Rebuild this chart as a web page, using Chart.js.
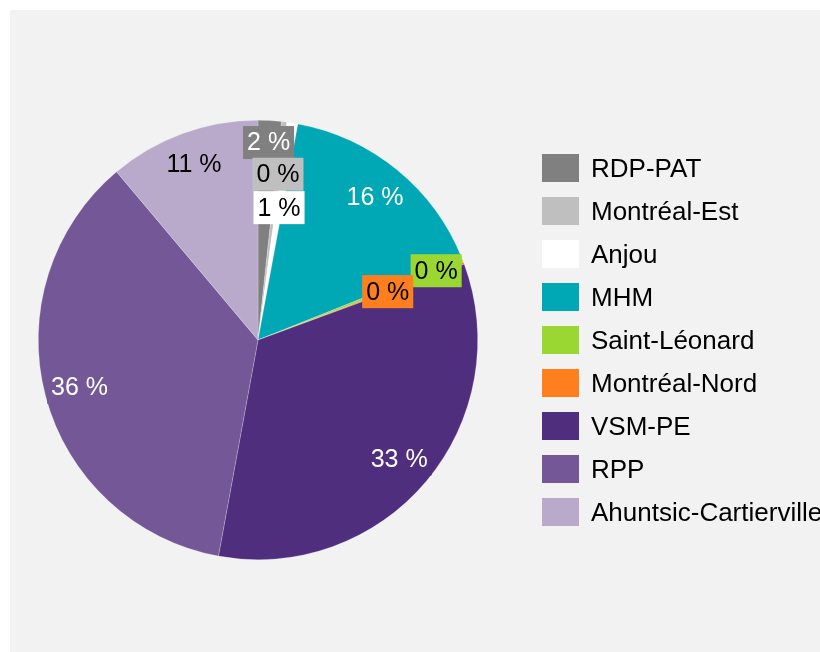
<!DOCTYPE html>
<html lang="fr">
<head>
<meta charset="utf-8">
<title>Répartition par arrondissement</title>
<script src="https://cdn.jsdelivr.net/npm/chart.js@4.4.1/dist/chart.umd.min.js"></script>
<style>
  html, body { margin:0; padding:0; width:820px; height:652px; overflow:hidden; background:#fff;
    font-family:'Liberation Sans', Arial, sans-serif; }
  .panel { position:absolute; left:10px; top:10px; right:0; bottom:0; background:#f2f2f2; }
  #chart { position:absolute; left:0; top:0; }
  .legend { position:absolute; left:542px; top:146.5px; margin:0; padding:0; list-style:none; }
  .legend li { display:flex; align-items:center; height:43px; font-size:26px; color:#000; white-space:nowrap; }
  .legend .sw { width:37px; height:28px; margin-right:12px; flex:none; }
</style>
</head>
<body>
<div class="panel"></div>
<canvas id="chart" width="820" height="652"></canvas>
<ul class="legend" id="legend"></ul>

<script>
/* ── Data ── */
const boroughs = ['RDP-PAT', 'Montréal-Est', 'Anjou', 'MHM', 'Saint-Léonard',
                  'Montréal-Nord', 'VSM-PE', 'RPP', 'Ahuntsic-Cartierville'];
const shares = [1.7, 0.4, 0.8, 16.0, 0.3, 0.15, 33.4, 35.9, 11.1];

/* ── Styles ── */
const sliceColors = ['#808080', '#bfbfbf', '#ffffff', '#00a8b5', '#9bd733',
                     '#ff7f1e', '#4f2e7e', '#735796', '#b9aacc'];
const labelColors = ['#fff', '#000', '#000', '#fff', '#000', '#000', '#fff', '#fff', '#000'];
// label distance from centre, as a share of the radius (small slices are staggered)
const labelRadius = [0.9, 0.76, 0.61, 0.84, 0.87, 0.63, 0.84, 0.84, 0.85];

/* ── Percent labels drawn on boxes ── */
const sliceLabels = {
  id: 'sliceLabels',
  afterDatasetsDraw(chart, args, opts) {
    const ctx = chart.ctx;
    const meta = chart.getDatasetMeta(0);
    const data = chart.data.datasets[0].data;
    const total = data.reduce((a, b) => a + b, 0);
    ctx.save();
    ctx.font = opts.font;
    ctx.textAlign = 'center';
    ctx.textBaseline = 'middle';
    meta.data.forEach((arc, i) => {
      const { x, y, startAngle, endAngle, outerRadius } =
        arc.getProps(['x', 'y', 'startAngle', 'endAngle', 'outerRadius'], true);
      const mid = (startAngle + endAngle) / 2;
      const r = outerRadius * opts.radius[i];
      const cx = x + Math.cos(mid) * r;
      const cy = y + Math.sin(mid) * r;
      const text = Math.round(data[i] / total * 100) + ' %';
      const w = ctx.measureText(text).width + 2 * opts.padX;
      const h = opts.boxHeight;
      ctx.fillStyle = sliceColors[i];
      ctx.fillRect(cx - w / 2, cy - h / 2, w, h);
      ctx.fillStyle = opts.colors[i];
      ctx.fillText(text, cx, cy + 1);
    });
    ctx.restore();
  }
};

new Chart(document.getElementById('chart'), {
  type: 'pie',
  data: {
    labels: boroughs,
    datasets: [{
      data: shares,
      backgroundColor: sliceColors,
      borderColor: 'rgba(255,255,255,0.35)',
      borderWidth: 0.6,
    }]
  },
  options: {
    responsive: false,
    animation: false,
    layout: { padding: { left: 38, right: 342, top: 120, bottom: 92 } },
    plugins: {
      legend: { display: false },
      tooltip: { enabled: false },
      sliceLabels: {
        font: "25px 'Liberation Sans', Arial, sans-serif",
        padX: 4,
        boxHeight: 33,
        radius: labelRadius,
        colors: labelColors,
      }
    }
  },
  plugins: [sliceLabels]
});

/* ── Legend ── */
const legend = document.getElementById('legend');
boroughs.forEach((name, i) => {
  const li = document.createElement('li');
  li.innerHTML = `<span class="sw" style="background:${sliceColors[i]}"></span>${name}`;
  legend.appendChild(li);
});
</script>
</body>
</html>
